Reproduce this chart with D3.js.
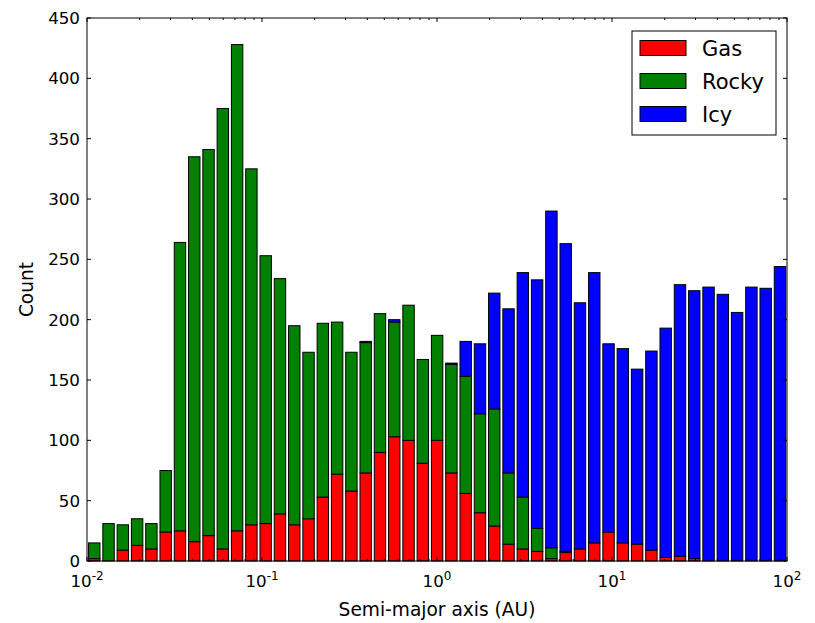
<!DOCTYPE html>
<html>
<head>
<meta charset="utf-8">
<script src="https://cdn.jsdelivr.net/npm/d3@7"></script>
<style>
  html, body { margin: 0; padding: 0; background: #fff; }
  svg { display: block; font-family: "DejaVu Sans", sans-serif; }
</style>
</head>
<body>
<svg id="chart" width="815" height="623"></svg>
<script>
// Stacked histogram of planet semi-major axes, 49 log-spaced bins from 1e-2 to 1e2 AU
const binCount = 49;
const logMin = -2, logMax = 2;

const gasCounts = [2, 0, 9, 13, 10, 24, 25, 16, 21, 10, 25, 30, 31, 39, 30, 35, 53, 72, 58, 73,
  90, 103, 100, 81, 100, 73, 56, 40, 29, 14, 10, 8, 2, 7, 10, 15, 24, 15, 14, 9,
  3, 4, 2, 0, 0, 0, 0, 0, 0];
const rockyCounts = [13, 31, 21, 22, 21, 51, 239, 319, 320, 365, 403, 295, 222, 195, 165, 138, 144, 126, 115, 108,
  115, 95, 112, 86, 87, 90, 97, 82, 97, 59, 43, 19, 9, 1, 0, 0, 0, 0, 0, 0,
  0, 0, 0, 0, 0, 0, 0, 0, 0];
const icyCounts = [0, 0, 0, 0, 0, 0, 0, 0, 0, 0, 0, 0, 0, 0, 0, 0, 0, 0, 0, 1,
  0, 2, 0, 0, 0, 1, 29, 58, 96, 136, 186, 206, 279, 255, 204, 224, 156, 161, 145, 165,
  190, 225, 222, 227, 221, 206, 227, 226, 244];

const seriesNames = ["Gas", "Rocky", "Icy"];
const seriesColors = ["#ff0000", "#008000", "#0000ff"];
const yTicks = [0, 50, 100, 150, 200, 250, 300, 350, 400, 450];
const xMajorExps = [-2, -1, 0, 1, 2];

const svg = d3.select("#chart");
const plot = { left: 87, right: 787, top: 18, bottom: 561 };

const x = d3.scaleLog().domain([1e-2, 1e2]).range([plot.left, plot.right]);
const y = d3.scaleLinear().domain([0, 450]).range([plot.bottom, plot.top]);

// bin edges and bar extents (bars span the middle 80% of each bin in linear units)
const edges = d3.range(binCount + 1).map(i => Math.pow(10, logMin + (logMax - logMin) * i / binCount));
const bins = d3.range(binCount).map(i => {
  const e0 = edges[i], e1 = edges[i + 1];
  return { x0: e0 + 0.1 * (e1 - e0), x1: e0 + 0.9 * (e1 - e0) };
});

const table = d3.range(binCount).map(i => ({ Gas: gasCounts[i], Rocky: rockyCounts[i], Icy: icyCounts[i], i }));
const stacked = d3.stack().keys(seriesNames)(table);

const barsG = svg.append("g");
stacked.forEach((layer, k) => {
  barsG.append("g")
    .selectAll("rect")
    .data(layer)
    .join("rect")
    .attr("x", d => x(bins[d.data.i].x0))
    .attr("width", d => x(bins[d.data.i].x1) - x(bins[d.data.i].x0))
    .attr("y", d => y(d[1]))
    .attr("height", d => y(d[0]) - y(d[1]))
    .attr("fill", seriesColors[k])
    .attr("stroke", "#000")
    .attr("stroke-width", 1);
});

// frame
svg.append("rect")
  .attr("x", plot.left).attr("y", plot.top)
  .attr("width", plot.right - plot.left).attr("height", plot.bottom - plot.top)
  .attr("fill", "none").attr("stroke", "#000").attr("stroke-width", 1);

const ticksG = svg.append("g").attr("stroke", "#000").attr("stroke-width", 1);

// y ticks (inward, both sides) and labels
yTicks.forEach(v => {
  const yy = y(v);
  ticksG.append("line").attr("x1", plot.left).attr("x2", plot.left + 4).attr("y1", yy).attr("y2", yy);
  ticksG.append("line").attr("x1", plot.right).attr("x2", plot.right - 4).attr("y1", yy).attr("y2", yy);
  svg.append("text")
    .attr("x", plot.left - 7).attr("y", yy + 6)
    .attr("text-anchor", "end").attr("font-size", 16.7).attr("fill", "#000")
    .text(v);
});

// x ticks: majors at decades, minors at 2..9 (inward, top and bottom)
xMajorExps.forEach(e => {
  const xx = x(Math.pow(10, e));
  ticksG.append("line").attr("x1", xx).attr("x2", xx).attr("y1", plot.bottom).attr("y2", plot.bottom - 4);
  ticksG.append("line").attr("x1", xx).attr("x2", xx).attr("y1", plot.top).attr("y2", plot.top + 4);
  if (e < logMax) {
    for (let m = 2; m <= 9; m++) {
      const xm = x(m * Math.pow(10, e));
      ticksG.append("line").attr("x1", xm).attr("x2", xm).attr("y1", plot.bottom).attr("y2", plot.bottom - 2);
      ticksG.append("line").attr("x1", xm).attr("x2", xm).attr("y1", plot.top).attr("y2", plot.top + 2);
    }
  }
  const t = svg.append("text")
    .attr("x", xx).attr("y", 587)
    .attr("text-anchor", "middle").attr("font-size", 16.7).attr("fill", "#000");
  t.append("tspan").text("10");
  t.append("tspan").attr("font-size", 12).attr("dy", -7).text(e < 0 ? "-" + Math.abs(e) : String(e));
});

// axis labels
svg.append("text")
  .attr("x", (plot.left + plot.right) / 2).attr("y", 616)
  .attr("text-anchor", "middle").attr("font-size", 18.6).attr("fill", "#000")
  .text("Semi-major axis (AU)");
svg.append("text")
  .attr("transform", `translate(33,${(plot.top + plot.bottom) / 2}) rotate(-90)`)
  .attr("text-anchor", "middle").attr("font-size", 18.6).attr("fill", "#000")
  .text("Count");

// legend
const lg = svg.append("g");
lg.append("rect").attr("x", 632).attr("y", 31).attr("width", 144).attr("height", 104)
  .attr("fill", "#fff").attr("stroke", "#000").attr("stroke-width", 1);
seriesNames.forEach((name, k) => {
  const cy = 48 + k * 33;
  lg.append("rect").attr("x", 640).attr("y", cy - 7.5).attr("width", 46).attr("height", 15)
    .attr("fill", seriesColors[k]).attr("stroke", "#000").attr("stroke-width", 1);
  lg.append("text").attr("x", 702).attr("y", cy + 7.5)
    .attr("font-size", 21).attr("fill", "#000").text(name);
});
</script>
</body>
</html>
